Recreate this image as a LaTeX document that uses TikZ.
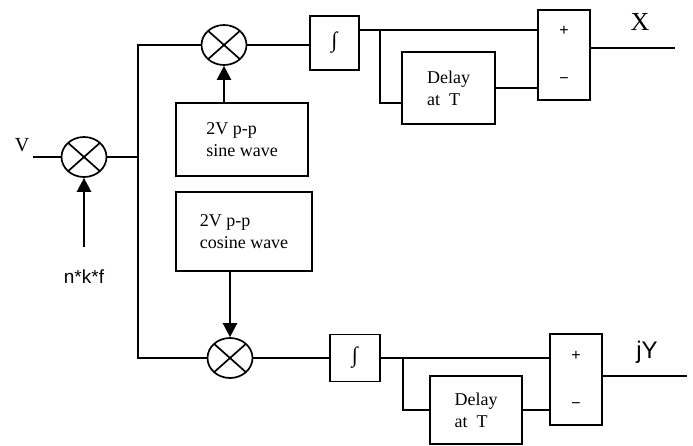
\documentclass[tikz,border=0pt]{standalone}
\usepackage{fontspec}
\setmainfont{Liberation Serif}
\newfontfamily\arialfont{Liberation Sans}
\usetikzlibrary{arrows.meta,shapes.geometric}
\begin{document}
\begin{tikzpicture}[x=1pt,y=-1pt,line width=1.7pt,
  blk/.style={draw,rectangle,inner sep=0pt,font=\fontsize{18}{22}\selectfont,align=left},
  intblk/.style={blk,font=\fontsize{22}{22}\selectfont\itshape},
  sumblk/.style={blk,minimum width=52pt,font=\arialfont\fontsize{16}{48}\selectfont,align=center},
  mixer/.style={draw,ellipse,minimum width=45pt,minimum height=40pt,inner sep=0pt,
    path picture={\draw (path picture bounding box.north west) -- (path picture bounding box.south east)
      (path picture bounding box.south west) -- (path picture bounding box.north east);}},
  feed/.style={-{Triangle[length=14pt,width=14pt]},line width=2.4pt}]
\useasboundingbox (0,0) rectangle (693,445);
\node[mixer] (mixin) at (84,157) {};
\node[mixer] (mixsin) at (224,45) {};
\node[mixer] (mixcos) at (230,358) {};
\node[blk,minimum width=132pt,minimum height=73pt] (sine) at (242,139.5) {2V p-p\\sine wave};
\node[blk,minimum width=136pt,minimum height=79pt] (cosine) at (244,231.5) {2V p-p\\cosine wave};
\node[intblk,minimum width=49pt,minimum height=54pt] (intx) at (334.5,43) {∫};
\node[intblk,minimum width=50pt,minimum height=47pt] (inty) at (355,358) {∫};
\node[blk,minimum width=93pt,minimum height=72pt] (delx) at (448.5,88) {Delay\\at\ \ T};
\node[blk,minimum width=92pt,minimum height=68pt] (dely) at (476,410) {Delay\\at\ \ T};
\node[sumblk,minimum height=90pt] (sumx) at (564,55) {+\\−};
\node[sumblk,minimum height=91pt] (sumy) at (576,379.5) {+\\−};
\node[font=\fontsize{20}{20}\selectfont] (vlab) at (22,145) {V};
\node[font=\arialfont\fontsize{19}{19}\selectfont] (nkf) at (84,277) {n*k*f};
\node[font=\fontsize{26}{26}\selectfont] (xlab) at (640,22) {X};
\node[font=\arialfont\fontsize{24}{24}\selectfont] (jylab) at (647,352) {jY};
\coordinate (vin) at (33,157);
\coordinate (nkfin) at (84,247);
\coordinate (split) at (138,157);
\coordinate (tapx) at (380,30);
\coordinate (tapxd) at (380,103);
\coordinate (tapy) at (403,358);
\coordinate (xout) at (675,48);
\coordinate (yout) at (687,376);
\draw (vin) -- (mixin);
\draw[feed] (nkfin) -- (mixin);
\draw (mixin) -- (split);
\draw (mixsin) -| (split) |- (mixcos);
\draw[feed] (sine.north -| mixsin) -- (mixsin);
\draw[feed] (cosine.south -| mixcos) -- (mixcos);
\draw (mixsin) -- (mixsin -| intx.west);
\draw (mixcos) -- (mixcos -| inty.west);
\draw (intx.east |- tapx) -- (tapx -| sumx.west);
\draw (tapx) -- (tapxd) -- (tapxd -| delx.west);
\draw (delx.east) -- (delx.east -| sumx.west);
\draw (sumx.east |- xout) -- (xout);
\draw (inty.east) -- (inty.east -| sumy.west);
\draw (tapy) |- (dely.west);
\draw (dely.east) -- (dely.east -| sumy.west);
\draw (sumy.east |- yout) -- (yout);
\end{tikzpicture}
\end{document}
